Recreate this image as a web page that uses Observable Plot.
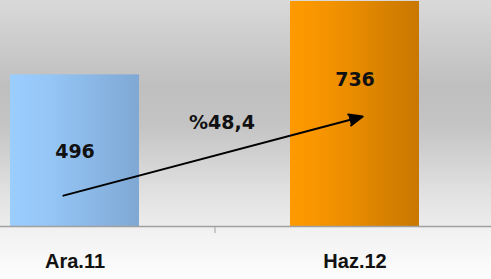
<!DOCTYPE html>
<html>
<head>
<meta charset="utf-8">
<script src="https://cdn.jsdelivr.net/npm/d3@7"></script>
<script src="https://cdn.jsdelivr.net/npm/@observablehq/plot@0.6"></script>
<style>
  html, body { margin: 0; padding: 0; background: #fff; }
  #chart svg { display: block; }
</style>
</head>
<body>
<div id="chart"></div>
<script>
const categories = ["Ara.11", "Haz.12"];
const values = [496, 736];
const fills = ["url(#gBlue)", "url(#gOrange)"];
const changeLabel = "%48,4";
const arrowFrom = 111;
const arrowTo = 353;

const data = categories.map((c, i) => ({cat: c, value: values[i], fill: fills[i]}));
const arrowData = [{x1: categories[0], y1: arrowFrom, x2: categories[1], y2: arrowTo, label: changeLabel}];

const valueFont = {fontFamily: "DejaVu Sans", fontWeight: "bold", fontSize: 19, fill: "#111"};

const plot = Plot.plot({
  width: 491,
  height: 279,
  marginTop: 1,
  marginBottom: 53,
  marginLeft: 0,
  marginRight: 0,
  style: {
    background: "linear-gradient(to bottom, #d9d9d9 0%, #bfbfbf 31%, #c4c4c4 45%, #e2e2e2 70%, #ececec 81%, #f1f1f1 82%, #fdfdfd 100%)",
    overflow: "visible"
  },
  x: {type: "band", domain: categories, range: [-66, 494], paddingInner: 0.54, paddingOuter: 0.27, align: 0.5, label: null},
  y: {domain: [0, d3.max(values)], axis: null},
  color: {type: "identity"},
  marks: [
    Plot.barY(data, {x: "cat", y: "value", fill: "fill"}),
    Plot.ruleY([0], {stroke: "#a0a0a0", strokeWidth: 1.5}),
    Plot.axisX([categories[0]], {tickSize: 7, tickFormat: () => "", dx: 140, stroke: "#a0a0a0", label: null}),
    Plot.axisX({tickSize: 0, tickPadding: 27, fontFamily: "Liberation Sans, Arial, sans-serif", fontWeight: "bold", fontSize: 20, fill: "#111", label: null}),
    Plot.text(data, {x: "cat", y: d => d.value * 0.5, dy: 1, text: d => String(d.value), ...valueFont, letterSpacing: "1px", filter: (d, i) => i === 0}),
    Plot.text(data, {x: "cat", y: d => d.value * 0.65, dy: 0, text: d => String(d.value), ...valueFont, letterSpacing: "1px", filter: (d, i) => i === 1}),
    Plot.arrow(arrowData, {x1: "x1", y1: "y1", x2: "x2", y2: "y2", insetStart: -12, insetEnd: -8, stroke: "#000", fill: "#000", strokeWidth: 2, headLength: 11, headAngle: 45}),
    Plot.text(arrowData, {x: "x1", y: "y2", dx: 147, dy: 4, text: "label", ...valueFont, letterSpacing: "2px"})
  ]
});

const defs = document.createElementNS("http://www.w3.org/2000/svg", "defs");
defs.innerHTML = `
  <linearGradient id="gBlue" x1="0" x2="1" y1="0" y2="0">
    <stop offset="0" stop-color="#9bcdff"/>
    <stop offset="0.3" stop-color="#95c6f6"/>
    <stop offset="1" stop-color="#7fa8d4"/>
  </linearGradient>
  <linearGradient id="gOrange" x1="0" x2="1" y1="0" y2="0">
    <stop offset="0" stop-color="#ff9a00"/>
    <stop offset="0.3" stop-color="#f49300"/>
    <stop offset="1" stop-color="#c87700"/>
  </linearGradient>`;
plot.insertBefore(defs, plot.firstChild);
document.getElementById("chart").appendChild(plot);
</script>
</body>
</html>
